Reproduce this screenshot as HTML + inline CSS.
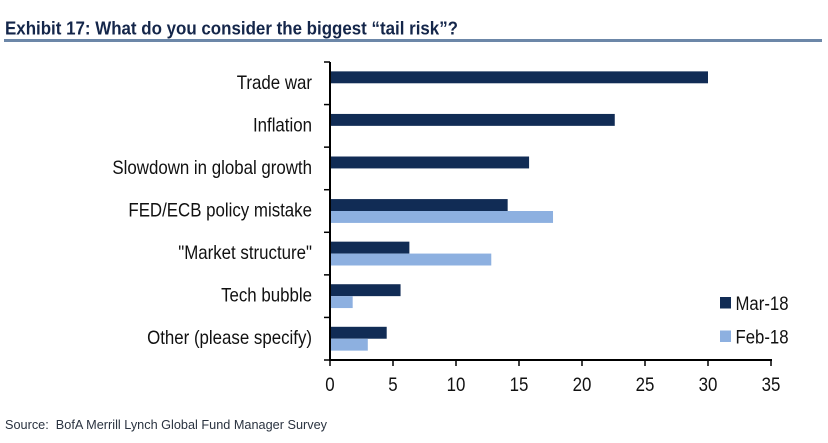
<!DOCTYPE html>
<html>
<head>
<meta charset="utf-8">
<style>
html,body{margin:0;padding:0;background:#fff;}
svg{display:block;font-family:"Liberation Sans",sans-serif;}
</style>
</head>
<body>
<svg id="chart" width="828" height="443" viewBox="0 0 828 443" xmlns="http://www.w3.org/2000/svg">
<text x="5" y="34.5" font-size="18.5" font-weight="bold" fill="#14264a" textLength="453" lengthAdjust="spacingAndGlyphs">Exhibit 17: What do you consider the biggest “tail risk”?</text>
<rect x="4" y="39" width="818" height="3" fill="#6c87a8"/>
<text x="5" y="429" font-size="13" fill="#2a3340" style="white-space:pre" textLength="322" lengthAdjust="spacingAndGlyphs">Source:  BofA Merrill Lynch Global Fund Manager Survey</text>
<g id="plot"></g>
</svg>
<script>
const categories = ["Trade war","Inflation","Slowdown in global growth","FED/ECB policy mistake","\"Market structure\"","Tech bubble","Other (please specify)"];
const mar18 = [30,22.6,15.8,14.1,6.3,5.6,4.5];
const feb18 = [null,null,null,17.7,12.8,1.8,3];
const xTicks = [0,5,10,15,20,25,30,35];
const seriesNames = ["Mar-18","Feb-18"];

const NS = "http://www.w3.org/2000/svg";
const plot = document.getElementById("plot");
const left = 330, right = 771, top0 = 62, bottom = 360;
const xMax = xTicks[xTicks.length-1];
const colors = ["#112c55","#8db0e0"];
function xScale(v){ return left + (v/xMax)*(right-left); }
const band = (bottom-top0)/categories.length;
function bandTop(i){ return top0 + i*band; }
function mk(tag, attrs, txt){
  const el = document.createElementNS(NS, tag);
  for (const k in attrs) el.setAttribute(k, attrs[k]);
  if (txt !== undefined) el.textContent = txt;
  plot.appendChild(el);
  return el;
}
function squeeze(el, ax, k){
  el.setAttribute('transform', 'translate(' + (ax*(1-k)) + ',0) scale(' + k + ',1)');
}
const barH = band*0.28;
const pad = (band-2*barH)/2;
[mar18, feb18].forEach(function(series, s){
  series.forEach(function(v, i){
    if (v === null) return;
    const el = mk("rect", {x:left, y:bandTop(i)+pad+s*barH, width:xScale(v)-left, height:barH, fill:colors[s]});
    
    
  });
});
const yAxis = mk("line", {x1:left, x2:left, y1:top0, y2:bottom+1, stroke:"#000", "stroke-width":2});


const xAxis = mk("line", {x1:left-1, x2:right+1, y1:bottom, y2:bottom, stroke:"#000", "stroke-width":2});


for (let i = 0; i <= categories.length; i++){
  const t = mk("line", {x1:left-6, x2:left, y1:bandTop(i), y2:bandTop(i), stroke:"#000", "stroke-width":1.5});
  
  
}
categories.forEach(function(c, i){
  const t = mk("text", {x:312, y:bandTop(i)+band/2+5.5, "text-anchor":"end", "font-size":19.5, fill:"#111"}, c);
  
  
  squeeze(t, 312, 0.865);
});
xTicks.forEach(function(v){
  const x = xScale(v);
  const t = mk("line", {x1:x, x2:x, y1:bottom, y2:bottom+6, stroke:"#000", "stroke-width":1.5});
  
  
  const l = mk("text", {x:x, y:391, "text-anchor":"middle", "font-size":19.5, fill:"#111"}, String(v));
  
  
  squeeze(l, x, 0.865);
});
seriesNames.forEach(function(n, s){
  const y = 297 + s*33.5;
  const r = mk("rect", {x:720, y:y, width:11, height:11.5, fill:colors[s]});
  
  
  const t = mk("text", {x:735.5, y:y+13, "font-size":19, fill:"#111", textLength:53, lengthAdjust:"spacingAndGlyphs"}, n);
  
  
});
</script>
</body>
</html>
